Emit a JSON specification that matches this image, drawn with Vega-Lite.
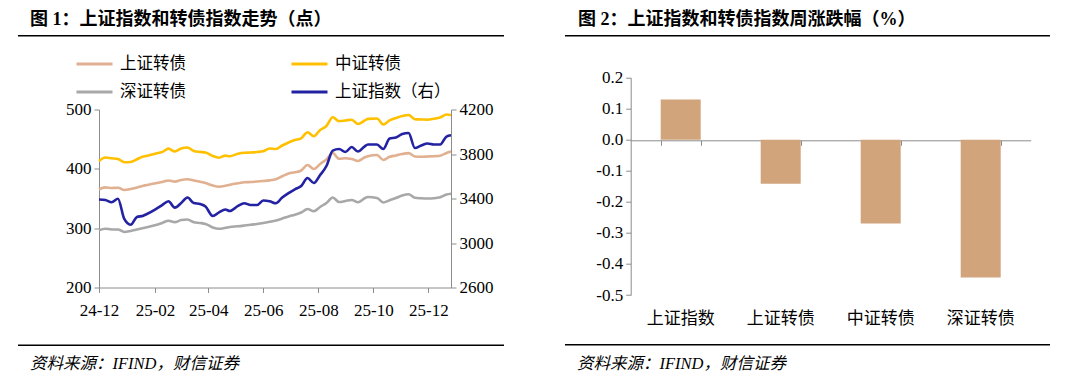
{
  "$schema": "https://vega.github.io/schema/vega-lite/v6.json",
  "autosize": {"type": "pad"},
  "padding": {"left": 18, "top": 11, "right": 0, "bottom": 0},
  "background": "white",
  "config": {
    "view": {"stroke": null},
    "locale": {"number": {"decimal": ".", "thousands": ",", "grouping": [3], "currency": ["", ""], "minus": "-"}},
    "axis": {"grid": false, "title": null, "labelColor": "#000", "domainColor": "#8c8c8c", "tickColor": "#8c8c8c", "labelFont": "Liberation Serif, Noto Sans CJK SC", "labelFontSize": 17, "labelOverlap": false, "minExtent": 0}
  },
  "datasets": {
    "lines": [
      {"d": "2024-12-06", "上证转债": 365.7, "中证转债": 413.2, "深证转债": 296.5, "上证指数": 3391},
      {"d": "2024-12-13", "上证转债": 368.7, "中证转债": 419.1, "深证转债": 299.1, "上证指数": 3386},
      {"d": "2024-12-20", "上证转债": 367.7, "中证转债": 417.8, "深证转债": 297.8, "上证指数": 3366},
      {"d": "2024-12-27", "上证转债": 368.1, "中证转债": 416.6, "深证转债": 297.8, "上证指数": 3398},
      {"d": "2025-01-03", "上证转债": 364.4, "中证转债": 411.2, "深证转债": 293.6, "上证指数": 3216},
      {"d": "2025-01-10", "上证转债": 366.0, "中证转债": 411.5, "深证转债": 295.3, "上证指数": 3164},
      {"d": "2025-01-17", "上证转债": 368.6, "中证转债": 416.1, "深证转债": 297.8, "上证指数": 3234},
      {"d": "2025-01-24", "上证转债": 371.6, "中证转债": 420.8, "深证转债": 300.3, "上证指数": 3245},
      {"d": "2025-01-27", "上证转债": 372.4, "中证转债": 421.6, "深证转债": 301.2, "上证指数": 3256},
      {"d": "2025-02-07", "上证转债": 375.8, "中证转债": 425.9, "深证转债": 305.4, "上证指数": 3305},
      {"d": "2025-02-14", "上证转债": 377.8, "中证转债": 428.4, "深证转债": 308.8, "上证指数": 3341},
      {"d": "2025-02-21", "上证转债": 380.4, "中证转债": 434.0, "深证转债": 312.5, "上证指数": 3375},
      {"d": "2025-02-28", "上证转债": 378.5, "中证转债": 429.2, "深证转债": 310.1, "上证指数": 3318},
      {"d": "2025-03-07", "上证转债": 381.2, "中证转债": 434.3, "深证转债": 313.8, "上证指数": 3359},
      {"d": "2025-03-14", "上证转债": 382.4, "中证转债": 436.0, "深证转债": 314.7, "上证指数": 3409},
      {"d": "2025-03-21", "上证转债": 380.5, "中证转债": 430.1, "深证转债": 310.0, "上证指数": 3359},
      {"d": "2025-03-28", "上证转债": 378.2, "中证转债": 428.4, "深证转债": 308.8, "上证指数": 3350},
      {"d": "2025-04-03", "上证转债": 376.0, "中证转债": 427.5, "深证转债": 307.1, "上证指数": 3328},
      {"d": "2025-04-11", "上证转债": 371.9, "中证转债": 421.6, "深证转债": 301.2, "上证指数": 3243},
      {"d": "2025-04-18", "上证转债": 369.9, "中证转债": 418.8, "深证转债": 299.0, "上证指数": 3276},
      {"d": "2025-04-25", "上证转债": 371.4, "中证转债": 422.2, "深证转债": 300.6, "上证指数": 3301},
      {"d": "2025-04-30", "上证转债": 373.1, "中证转债": 421.3, "深证转债": 302.0, "上证指数": 3288},
      {"d": "2025-05-09", "上证转债": 375.6, "中证转债": 425.4, "深证转债": 303.2, "上证指数": 3334},
      {"d": "2025-05-16", "上证转债": 377.3, "中证转债": 427.1, "深证转债": 304.4, "上证指数": 3357},
      {"d": "2025-05-23", "上证转债": 377.8, "中证转债": 427.5, "深证转债": 305.7, "上证指数": 3341},
      {"d": "2025-05-30", "上证转债": 378.7, "中证转债": 428.4, "深证转债": 307.1, "上证指数": 3341},
      {"d": "2025-06-06", "上证转债": 379.5, "中证转债": 429.6, "深证转债": 308.8, "上证指数": 3382},
      {"d": "2025-06-13", "上证转债": 380.5, "中证转债": 434.3, "深证转债": 310.8, "上证指数": 3375},
      {"d": "2025-06-20", "上证转债": 382.6, "中证转债": 433.4, "深证转债": 313.0, "上证指数": 3357},
      {"d": "2025-06-27", "上证转债": 387.5, "中证转债": 439.3, "深证转债": 316.2, "上证指数": 3409},
      {"d": "2025-07-04", "上证转债": 392.2, "中证转债": 444.4, "深证转债": 319.7, "上证指数": 3449},
      {"d": "2025-07-11", "上证转债": 394.2, "中证转债": 448.6, "深证转债": 322.8, "上证指数": 3483},
      {"d": "2025-07-18", "上证转债": 397.2, "中证转债": 451.5, "深证转债": 326.3, "上证指数": 3512},
      {"d": "2025-07-25", "上证转债": 406.5, "中证转债": 461.6, "深证转债": 332.3, "上证指数": 3584},
      {"d": "2025-08-01", "上证转债": 399.7, "中证转债": 454.8, "深证转债": 328.5, "上证指数": 3539},
      {"d": "2025-08-08", "上证转债": 408.2, "中证转债": 465.5, "深证转债": 335.7, "上证指数": 3611},
      {"d": "2025-08-15", "上证转债": 415.8, "中证转债": 472.2, "深证转债": 342.5, "上证指数": 3692},
      {"d": "2025-08-22", "上证转债": 426.7, "中证转债": 487.0, "深证转债": 351.7, "上证指数": 3831},
      {"d": "2025-08-29", "上证转债": 416.9, "中证转债": 480.3, "深证转债": 344.1, "上证指数": 3845},
      {"d": "2025-09-05", "上证转债": 417.9, "中证转债": 481.5, "深证转债": 345.8, "上证指数": 3818},
      {"d": "2025-09-12", "上证转债": 416.6, "中证转债": 482.8, "深证转债": 347.5, "上证指数": 3863},
      {"d": "2025-09-19", "上证转债": 413.2, "中证转债": 475.6, "深证转债": 343.6, "上证指数": 3822},
      {"d": "2025-09-26", "上证转债": 419.1, "中证转债": 481.0, "深证转债": 350.0, "上证指数": 3867},
      {"d": "2025-09-30", "上证转债": 421.3, "中证转债": 484.2, "深证转债": 352.6, "上证指数": 3885},
      {"d": "2025-10-10", "上证转债": 423.3, "中证转债": 484.8, "深证转债": 350.9, "上证指数": 3885},
      {"d": "2025-10-17", "上证转债": 414.9, "中证转债": 474.7, "深证转债": 343.3, "上证指数": 3845},
      {"d": "2025-10-24", "上证转债": 420.3, "中证转债": 481.8, "深证转债": 347.2, "上证指数": 3939},
      {"d": "2025-10-31", "上证转债": 422.5, "中证转债": 485.7, "深证转债": 350.9, "上证指数": 3948},
      {"d": "2025-11-07", "上证转债": 425.0, "中证转债": 489.0, "深证转债": 355.1, "上证指数": 3980},
      {"d": "2025-11-14", "上证转债": 426.4, "中证转债": 490.7, "深证转债": 357.1, "上证指数": 3989},
      {"d": "2025-11-21", "上证转债": 420.8, "中证转债": 483.7, "深证转债": 351.2, "上证指数": 3854},
      {"d": "2025-11-28", "上证转债": 420.3, "中证转债": 483.2, "深证转债": 350.4, "上证指数": 3876},
      {"d": "2025-12-05", "上证转债": 420.8, "中证转债": 482.8, "深证转债": 350.0, "上证指数": 3894},
      {"d": "2025-12-12", "上证转债": 421.3, "中证转债": 484.3, "深证转债": 350.5, "上证指数": 3885},
      {"d": "2025-12-19", "上证转债": 422.2, "中证转债": 486.5, "深证转债": 352.2, "上证指数": 3885},
      {"d": "2025-12-26", "上证转债": 426.7, "中证转债": 491.6, "深证转债": 356.8, "上证指数": 3957},
      {"d": "2025-12-31", "上证转债": 429.2, "中证转债": 490.7, "深证转债": 358.1, "上证指数": 3968}
    ],
    "bars": [
      {"name": "上证指数", "v": 0.13},
      {"name": "上证转债", "v": -0.142},
      {"name": "中证转债", "v": -0.27},
      {"name": "深证转债", "v": -0.444}
    ],
    "one": [{}]
  },
  "spacing": 61,
  "hconcat": [
    {
      "spacing": 25.5,
      "vconcat": [
        {
          "spacing": 63.5,
          "vconcat": [
            {
              "width": 486, "height": 1.5,
              "data": {"name": "one"},
              "mark": {"type": "rect", "color": "#000"},
              "encoding": {},
              "title": {"text": "图 1：上证指数和转债指数走势（点）", "anchor": "start", "dx": 12, "offset": 6, "fontSize": 18, "fontWeight": "bold", "font": "Liberation Serif, Noto Sans CJK SC", "color": "#000"}
            },
            {
              "width": 486, "height": 178,
              "data": {"name": "lines"},
              "encoding": {
                "x": {"field": "d", "type": "temporal",
                  "scale": {"type": "utc", "nice": false, "range": [81, 433], "domain": [{"year": 2024, "month": 12, "date": 6, "utc": true}, {"year": 2025, "month": 12, "date": 31, "utc": true}]},
                  "axis": {"labelExpr": "utcFormat(datum.value, '%y-%m')", "tickSize": 5, "labelPadding": 10, "labelFlush": false, "labelOverlap": false,
                    "values": [
                      {"year": 2024, "month": 12, "date": 6, "utc": true},
                      {"year": 2025, "month": 2, "date": 6, "utc": true},
                      {"year": 2025, "month": 4, "date": 6, "utc": true},
                      {"year": 2025, "month": 6, "date": 6, "utc": true},
                      {"year": 2025, "month": 8, "date": 6, "utc": true},
                      {"year": 2025, "month": 10, "date": 6, "utc": true},
                      {"year": 2025, "month": 12, "date": 6, "utc": true}
                    ]}
                }
              },
              "layer": [
                {
                  "transform": [{"fold": ["上证转债", "中证转债", "深证转债"], "as": ["series", "value"]}],
                  "mark": {"type": "line", "strokeWidth": 2.6, "interpolate": "monotone"},
                  "encoding": {
                    "y": {"field": "value", "type": "quantitative", "scale": {"domain": [200, 500], "nice": false, "zero": false},
                      "axis": {"orient": "left", "offset": -81, "values": [200, 300, 400, 500], "tickSize": 5, "labelPadding": 3, "labelOverlap": false}},
                    "color": {"field": "series", "type": "nominal",
                      "scale": {"domain": ["上证转债", "深证转债", "中证转债", "上证指数（右）"], "range": ["#E0B090", "#A8A8A8", "#FFC000", "#2222A2"]},
                      "legend": {"title": null, "orient": "none", "legendX": 57, "legendY": 9.5, "columns": 2, "gridAlign": "each", "columnPadding": 99, "rowPadding": -16.4, "padding": 0,
                        "symbolType": "stroke", "symbolSize": 1296, "symbolStrokeWidth": 3, "labelOffset": 6, "labelFontSize": 16.5, "labelFont": "Noto Sans CJK SC", "labelColor": "#000"}
                    }
                  }
                },
                {
                  "mark": {"type": "line", "strokeWidth": 2.6, "interpolate": "monotone"},
                  "encoding": {
                    "y": {"field": "上证指数", "type": "quantitative", "scale": {"domain": [2600, 4200], "nice": false, "zero": false},
                      "axis": {"orient": "right", "offset": -53, "values": [2600, 3000, 3400, 3800, 4200], "format": "d", "tickSize": 5, "labelPadding": 3, "labelOverlap": false}},
                    "color": {"datum": "上证指数（右）"}
                  }
                }
              ],
              "resolve": {"scale": {"y": "independent"}}
            }
          ]
        },
        {
          "width": 486, "height": 1.5,
          "data": {"name": "one"},
          "mark": {"type": "rect", "color": "#000"},
          "encoding": {},
          "title": {"text": "资料来源：IFIND，财信证券", "orient": "bottom", "anchor": "start", "dx": 12, "offset": 10, "fontSize": 16.5, "fontStyle": "italic", "fontWeight": "normal", "font": "Liberation Serif, Noto Sans CJK SC", "color": "#000"}
        }
      ]
    },
    {
      "spacing": 17,
      "vconcat": [
        {
          "spacing": 31.7,
          "vconcat": [
            {
              "width": 485, "height": 1.5,
              "data": {"name": "one"},
              "mark": {"type": "rect", "color": "#000"},
              "encoding": {},
              "title": {"text": "图 2：上证指数和转债指数周涨跌幅（%）", "anchor": "start", "dx": 13, "offset": 6, "fontSize": 18, "fontWeight": "bold", "font": "Liberation Serif, Noto Sans CJK SC", "color": "#000"}
            },
            {
              "width": 485, "height": 217.3,
              "data": {"name": "bars"},
              "encoding": {
                "y": {"field": "v", "type": "quantitative", "scale": {"domain": [-0.5, 0.2], "nice": false, "zero": false},
                  "axis": {"offset": -65.7, "values": [-0.5, -0.4, -0.3, -0.2, -0.1, 0, 0.1, 0.2], "format": ".1f", "tickSize": 5, "labelPadding": 3, "labelOverlap": false}}
              },
              "layer": [
                {
                  "mark": {"type": "bar", "color": "#D2A47C"},
                  "encoding": {
                    "x": {"field": "name", "type": "nominal", "sort": null, "scale": {"range": [65.7, 465.7], "paddingInner": 0.6, "paddingOuter": 0.3},
                      "axis": {"orient": "bottom", "domain": false, "ticks": false, "labelPadding": 15.5, "labelAngle": 0, "labelFontSize": 17, "labelFont": "Noto Sans CJK SC"}}
                  }
                },
                {
                  "mark": {"type": "bar", "opacity": 0},
                  "encoding": {
                    "x": {"field": "name", "type": "nominal", "sort": null,
                      "axis": {"orient": "top", "offset": -62.6, "labels": false, "domain": true, "ticks": true, "tickBand": "extent", "tickExtra": true, "tickSize": -5, "maxExtent": 0}}
                  }
                }
              ],
              "resolve": {"axis": {"x": "independent"}}
            }
          ]
        },
        {
          "width": 485, "height": 1.5,
          "data": {"name": "one"},
          "mark": {"type": "rect", "color": "#000"},
          "encoding": {},
          "title": {"text": "资料来源：IFIND，财信证券", "orient": "bottom", "anchor": "start", "dx": 12, "offset": 10, "fontSize": 16.5, "fontStyle": "italic", "fontWeight": "normal", "font": "Liberation Serif, Noto Sans CJK SC", "color": "#000"}
        }
      ]
    }
  ]
}
